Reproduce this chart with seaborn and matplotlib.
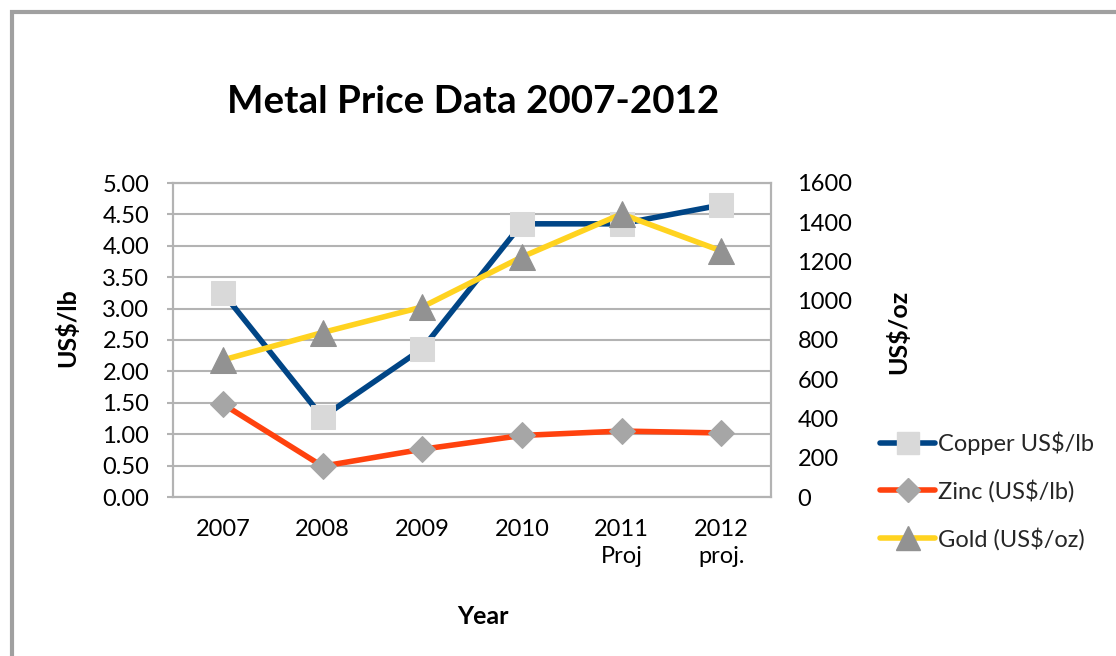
import matplotlib
matplotlib.use("Agg")
import matplotlib.pyplot as plt
import seaborn as sns
import pandas as pd
from matplotlib.lines import Line2D
from matplotlib.patches import Rectangle

years = ["2007", "2008", "2009", "2010", "2011\nProj", "2012\nproj."]
copper = [3.25, 1.27, 2.36, 4.35, 4.35, 4.65]
zinc = [1.48, 0.49, 0.76, 0.98, 1.05, 1.02]
gold = [698, 838, 968, 1223, 1442, 1254]

sns.set_theme(style="white")
plt.rcParams['font.family'] = ['Lato', 'DejaVu Sans']

df = pd.DataFrame({"pos": range(len(years)), "year": years,
                   "copper": copper, "zinc": zinc, "gold": gold})

C_COPPER = "#004586"
C_ZINC = "#ff420e"
C_GOLD = "#ffd320"
GRID = "#b3b3b3"
FS = 17

fig = plt.figure(figsize=(11.16, 6.56), dpi=100)
ax = fig.add_axes([173/1116, 1-497/656, (771-173)/1116, (497-183)/656])
ax2 = ax.twinx()

sns.lineplot(data=df, x="pos", y="copper", ax=ax, color=C_COPPER, lw=4,
             marker="s", markersize=17, markerfacecolor="#d9d9d9",
             markeredgecolor="#d9d9d9", zorder=3)
sns.lineplot(data=df, x="pos", y="zinc", ax=ax, color=C_ZINC, lw=4,
             marker="D", markersize=13, markerfacecolor="#a6a6a6",
             markeredgecolor="#a6a6a6", zorder=3)
sns.lineplot(data=df, x="pos", y="gold", ax=ax2, color=C_GOLD, lw=4,
             marker="^", markersize=19, markerfacecolor="#929292",
             markeredgecolor="#929292", zorder=3)

ax.set_xlim(-0.5, len(years) - 0.5)
ax.set_ylim(0, 5)
ax2.set_ylim(0, 1600)
ax.set_yticks([i * 0.5 for i in range(11)])
ax.set_yticklabels([f"{i*0.5:.2f}" for i in range(11)])
ax2.set_yticks(range(0, 1601, 200))
ax.set_xticks(df["pos"])
ax.set_xticklabels(years)

ax.yaxis.grid(True, color=GRID, lw=1.5)
ax.set_axisbelow(True)
for a in (ax, ax2):
    for s in a.spines.values():
        s.set_color(GRID)
        s.set_linewidth(1.5)

ax.tick_params(axis="y", length=4, width=1.5, color=GRID, labelsize=FS, pad=13)
ax.tick_params(axis="x", length=0, labelsize=FS, pad=16)
ax2.tick_params(axis="y", length=0, labelsize=FS, pad=19)
for lab in ax.get_xticklabels():
    lab.set_linespacing(1.36)
for lab in ax.get_xticklabels() + ax.get_yticklabels() + ax2.get_yticklabels():
    lab.set_color("black")

ax.set_xlabel("")
ax.set_ylabel("")
ax2.set_ylabel("")
fig.text(67/1116, 1-328/656, "US$/lb", rotation=90, ha="center", va="center",
         fontsize=18, fontweight="bold", color="black")
fig.text(898/1116, 1-332/656, "US$/oz", rotation=90, ha="center", va="center",
         fontsize=18, fontweight="bold", color="black")
fig.text(483/1116, 1-617/656, "Year", ha="center", va="center",
         fontsize=18, fontweight="bold", color="black")
fig.text(473/1116, 1-102/656, "Metal Price Data 2007-2012", ha="center",
         va="center", fontsize=27.7, fontweight="bold", color="black")

handles = [
    Line2D([], [], color=C_COPPER, lw=4, marker="s", markersize=16,
           markerfacecolor="#d9d9d9", markeredgecolor="#d9d9d9"),
    Line2D([], [], color=C_ZINC, lw=4, marker="D", markersize=12,
           markerfacecolor="#a6a6a6", markeredgecolor="#a6a6a6"),
    Line2D([], [], color=C_GOLD, lw=4, marker="^", markersize=17,
           markerfacecolor="#929292", markeredgecolor="#929292"),
]
labels = ["Copper US$/lb", "Zinc (US$/lb)", "Gold (US$/oz)"]
leg = fig.legend(handles, labels, loc="center left",
                 bbox_to_anchor=(880/1116, 1-491/656), frameon=False,
                 fontsize=FS, handlelength=2.33, handletextpad=0.13,
                 labelspacing=1.05, borderaxespad=0, borderpad=0)

# outer frame
fig.add_artist(Rectangle((12/1116, -0.1), 1.2, 1.1 - 12/656,
                         transform=fig.transFigure, fill=False,
                         edgecolor="#a0a0a0", lw=3))

fig.savefig("out.png", dpi=100)
